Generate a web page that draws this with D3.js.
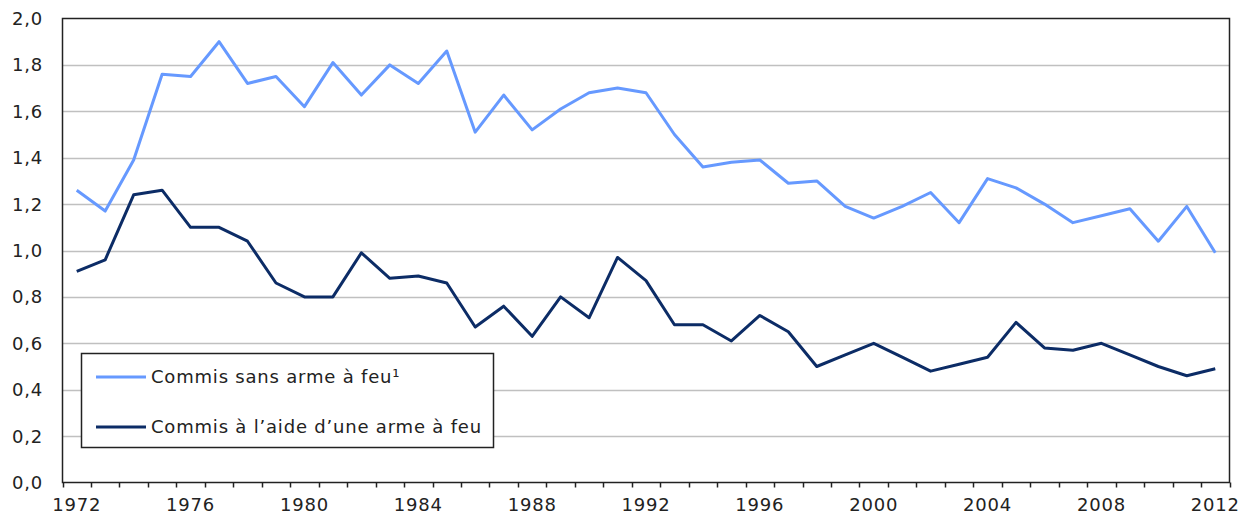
<!DOCTYPE html>
<html>
<head>
<meta charset="utf-8">
<script src="https://cdn.jsdelivr.net/npm/d3@7"></script>
<style>
  body { margin: 0; background: #fff; }
  svg text { font-family: "DejaVu Sans", Verdana, sans-serif; fill: #222; letter-spacing: 0.8px; }
</style>
</head>
<body>
<div id="chart"></div>
<script>
// Data
var years = d3.range(1972, 2013);
var yTicks = [0, 0.2, 0.4, 0.6, 0.8, 1.0, 1.2, 1.4, 1.6, 1.8, 2.0];
var xLabels = [1972, 1976, 1980, 1984, 1988, 1992, 1996, 2000, 2004, 2008, 2012];

var sansArme = [1.26, 1.17, 1.39, 1.76, 1.75, 1.90, 1.72, 1.75, 1.62, 1.81,
                1.67, 1.80, 1.72, 1.86, 1.51, 1.67, 1.52, 1.61, 1.68, 1.70,
                1.68, 1.50, 1.36, 1.38, 1.39, 1.29, 1.30, 1.19, 1.14, 1.19,
                1.25, 1.12, 1.31, 1.27, 1.20, 1.12, 1.15, 1.18, 1.04, 1.19, 0.99];
var avecArme = [0.91, 0.96, 1.24, 1.26, 1.10, 1.10, 1.04, 0.86, 0.80, 0.80,
                0.99, 0.88, 0.89, 0.86, 0.67, 0.76, 0.63, 0.80, 0.71, 0.97,
                0.87, 0.68, 0.68, 0.61, 0.72, 0.65, 0.50, 0.55, 0.60, 0.54,
                0.48, 0.51, 0.54, 0.69, 0.58, 0.57, 0.60, 0.55, 0.50, 0.46, 0.49];

var seriesNames = ["Commis sans arme à feu\u00b9", "Commis à l\u2019aide d\u2019une arme à feu"];
var seriesColors = ["#6699ff", "#0c2c66"];

// Layout
var W = 1240, H = 515;
var plotLeft = 62.5, plotRight = 1229.5, plotTop = 18.5, plotBottom = 482.5;

var svg = d3.select("#chart").append("svg")
    .attr("width", W)
    .attr("height", H);

var x = d3.scaleBand()
    .domain(years)
    .range([plotLeft, plotRight]);

var y = d3.scaleLinear()
    .domain([0, 2])
    .range([plotBottom, plotTop]);

// Gridlines
svg.append("g")
    .selectAll("line")
    .data(yTicks.slice(1, -1))
    .enter().append("line")
    .attr("x1", plotLeft)
    .attr("x2", plotRight)
    .attr("y1", function(d) { return Math.round(y(d)) + 0.5; })
    .attr("y2", function(d) { return Math.round(y(d)) + 0.5; })
    .style("stroke", "#c0c0c0")
    .style("stroke-width", 1.5);

// Plot border
svg.append("rect")
    .attr("x", plotLeft)
    .attr("y", plotTop)
    .attr("width", plotRight - plotLeft)
    .attr("height", plotBottom - plotTop)
    .style("fill", "none")
    .style("stroke", "#222")
    .style("stroke-width", 1.5);

// Y axis labels
svg.append("g")
    .selectAll("text")
    .data(yTicks)
    .enter().append("text")
    .attr("x", 43)
    .attr("y", function(d) { return y(d); })
    .attr("dy", "0.36em")
    .style("text-anchor", "end")
    .style("font-size", "18px")
    .text(function(d) { return d3.format(".1f")(d).replace(".", ","); });

// X axis ticks, between categories
var tickPos = years.map(function(d) { return x(d); }).concat([plotRight]);
svg.append("g")
    .selectAll("line")
    .data(tickPos)
    .enter().append("line")
    .attr("x1", function(d) { return Math.round(d) + 0.5; })
    .attr("x2", function(d) { return Math.round(d) + 0.5; })
    .attr("y1", plotBottom)
    .attr("y2", plotBottom + 5)
    .style("stroke", "#222")
    .style("stroke-width", 1.5);

svg.append("g")
    .selectAll("text")
    .data(xLabels)
    .enter().append("text")
    .attr("x", function(d) { return x(d) + x.bandwidth() / 2; })
    .attr("y", 511)
    .style("text-anchor", "middle")
    .style("font-size", "18px")
    .text(function(d) { return d; });

// Lines
var line = d3.line()
    .x(function(d, i) { return x(years[i]) + x.bandwidth() / 2; })
    .y(function(d) { return y(d); });

[sansArme, avecArme].forEach(function(s, k) {
    svg.append("path")
        .datum(s)
        .attr("d", line)
        .style("fill", "none")
        .style("stroke", seriesColors[k])
        .style("stroke-width", 3)
        .style("stroke-linejoin", "round");
});

// Legend
var legend = svg.append("g");
legend.append("rect")
    .attr("x", 81.5)
    .attr("y", 353.5)
    .attr("width", 412)
    .attr("height", 94)
    .style("fill", "#fff")
    .style("stroke", "#222")
    .style("stroke-width", 1.5);

var legendY = [377, 427];
seriesNames.forEach(function(name, k) {
    legend.append("line")
        .attr("x1", 96)
        .attr("x2", 146)
        .attr("y1", legendY[k])
        .attr("y2", legendY[k])
        .style("stroke", seriesColors[k])
        .style("stroke-width", 3);
    legend.append("text")
        .attr("x", 151)
        .attr("y", legendY[k])
        .attr("dy", "0.36em")
        .style("font-size", "18px")
        .text(name);
});
</script>
</body>
</html>
